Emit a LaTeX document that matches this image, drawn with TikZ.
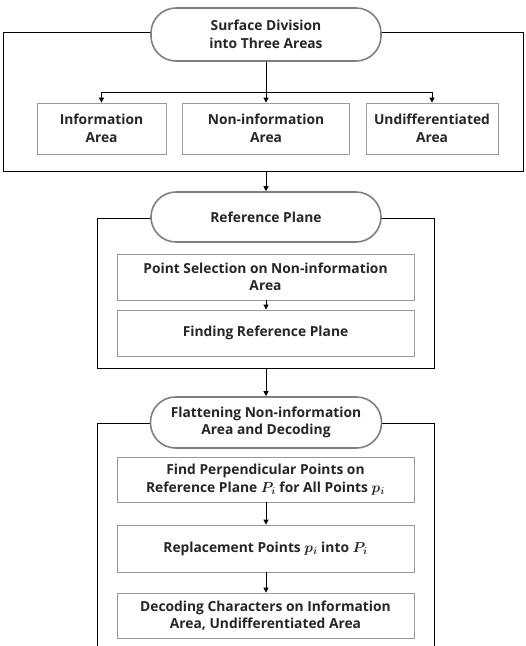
\documentclass[tikz,border=0pt]{standalone}
\usepackage{bm}
\usepackage{fontspec}
\setmainfont{Open Sans}
\usetikzlibrary{arrows.meta}
\tikzset{
  pill/.style={draw=black!50, line width=1.6pt, fill=white, rounded corners=25pt, align=center, font=\bfseries\fontsize{13.8}{17.5}\selectfont, text=black!85},
  outer/.style={draw=black, line width=0.9pt},
  box/.style={draw=black!40, line width=0.8pt, fill=white, align=center, font=\bfseries\fontsize{13.8}{17.5}\selectfont, text=black!85},
  arr/.style={draw=black, line width=0.9pt, -{Triangle[length=5pt,width=5pt]}},
  ln/.style={draw=black, line width=0.9pt}
}
\newcommand{\bigPi}{$\bm{P_i}$}
\newcommand{\smallpi}{$\bm{p_i}$}
\begin{document}
\begin{tikzpicture}[x=1pt,y=-1pt]
\useasboundingbox (0,0) rectangle (526,646);
% section 1
\node[outer, minimum width=520pt, minimum height=139pt] (r1) at (263,101.5) {};
\node[pill, minimum width=230pt, minimum height=53pt] (s1) at (266,34.5) {Surface Division\\into Three Areas};
\node[box, minimum width=129pt, minimum height=51pt] (b1) at (101.5,128.5) {Information\\Area};
\node[box, minimum width=167pt, minimum height=51pt] (b2) at (266,128.5) {Non-information\\Area};
\node[box, minimum width=132pt, minimum height=51pt] (b3) at (432,128.5) {Undifferentiated\\Area};
\coordinate (split) at (266,92);
\draw[ln] (s1.south) -- (split);
\draw[arr] (split) -| (b1.north);
\draw[arr] (split) -- (b2.north);
\draw[arr] (split) -| (b3.north);
% section 2
\node[outer, minimum width=337pt, minimum height=150pt] (r2) at (265.5,293) {};
\node[pill, minimum width=230pt, minimum height=50pt] (s2) at (266,217) {Reference Plane};
\node[box, minimum width=297pt, minimum height=46pt] (c1) at (265.5,277) {Point Selection on Non-information\\Area};
\node[box, minimum width=297pt, minimum height=46pt] (c2) at (265.5,333) {Finding Reference Plane};
\draw[arr] (s2.north |- r1.south) -- (s2.north);
\draw[arr] (c1.south -| s2) -- (c2.north -| s2);
% section 3
\draw[outer] (97,646) -- (97,423) -- (434,423) -- (434,646);
\node[pill, minimum width=231pt, minimum height=51pt] (s3) at (266,422.5) {Flattening Non-information\\Area and Decoding};
\node[box, minimum width=297pt, minimum height=45pt] (d1) at (265.5,479.5) {Find Perpendicular Points on\\Reference Plane \bigPi{} for All Points \smallpi};
\node[box, minimum width=297pt, minimum height=47pt] (d2) at (265.5,548.5) {Replacement Points \smallpi{} into \bigPi};
\node[box, minimum width=297pt, minimum height=45pt] (d3) at (265.5,615.5) {Decoding Characters on Information\\Area, Undifferentiated Area};
\draw[arr] (s3.north |- r2.south) -- (s3.north);
\draw[arr] (d1.south -| s3) -- (d2.north -| s3);
\draw[arr] (d2.south -| s3) -- (d3.north -| s3);
\end{tikzpicture}
\end{document}
